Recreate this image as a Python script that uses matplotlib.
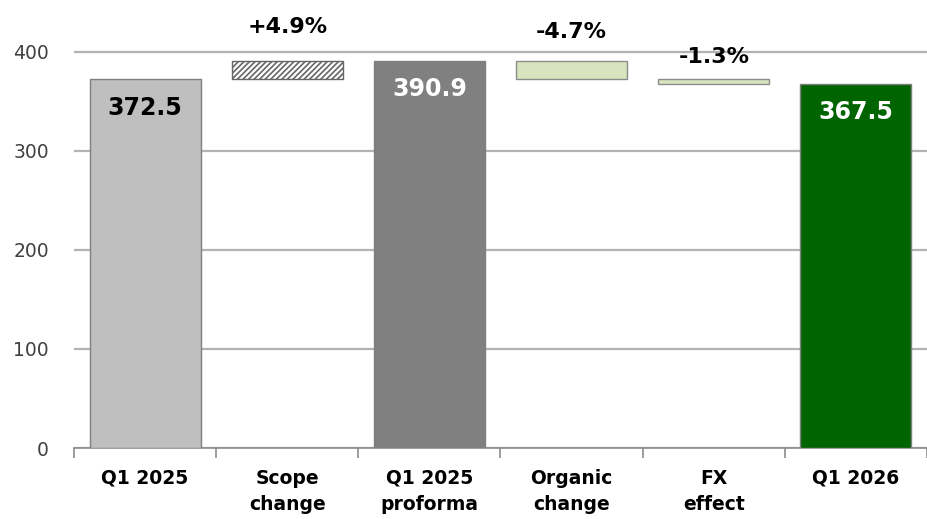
import matplotlib.pyplot as plt

categories = ["Q1 2025", "Scope\nchange", "Q1 2025\nproforma", "Organic\nchange", "FX\neffect", "Q1 2026"]
# totals (None = floating step bar)
totals = [372.5, None, 390.9, None, None, 367.5]
# step bars: (from, to)
steps = {1: (372.5, 390.9), 3: (390.9, 372.5), 4: (372.5, 367.5)}
step_labels = {1: "+4.9%", 3: "-4.7%", 4: "-1.3%"}

total_colors = {0: "#bfbfbf", 2: "#808080", 5: "#006400"}
total_text = {0: "black", 2: "white", 5: "white"}
label_gap = {1: 34, 3: 29, 4: 22}

plt.rcParams["hatch.color"] = "#4d4d4d"
plt.rcParams["hatch.linewidth"] = 1.2

fig = plt.figure(figsize=(9.27, 5.19), dpi=100)
ax = fig.add_axes([74 / 927, 71 / 519, 853 / 927, 448 / 519])

width = 0.78
x = list(range(len(categories)))

for i in x:
    if totals[i] is not None:
        ax.bar(i, totals[i], width=width, color=total_colors[i], edgecolor="#7f7f7f", linewidth=1, zorder=3)
        ax.text(i, totals[i] - 29, f"{totals[i]:.1f}", ha="center", va="center",
                fontsize=17, fontweight="bold", color=total_text[i], zorder=4)
    else:
        lo, hi = sorted(steps[i])
        if i == 1:
            ax.bar(i, hi - lo, bottom=lo, width=width, color="white", edgecolor="#666666",
                   hatch="//////", linewidth=1, zorder=3)
        else:
            ax.bar(i, hi - lo, bottom=lo, width=width, color="#d7e4bd", edgecolor="#8c8c8c",
                   linewidth=1, zorder=3)
        ax.text(i, hi + label_gap[i], step_labels[i], ha="center", va="center",
                fontsize=16, fontweight="bold", color="black", zorder=4)

ax.set_ylim(0, 452)
ax.set_xlim(-0.5, 5.42)
ax.set_yticks([0, 100, 200, 300, 400])
ax.yaxis.grid(True, color="#b3b3b3", linewidth=1.6, zorder=0)
ax.tick_params(axis="y", length=0, labelsize=13.5, labelcolor="#404040", pad=18)

ax.set_xticks([i - 0.5 for i in x] + [5.5])
ax.set_xticklabels([])
ax.set_xticks(x, minor=True)
ax.set_xticklabels(categories, minor=True, fontsize=13.5, fontweight="bold", linespacing=1.45)
ax.tick_params(axis="x", which="major", length=7, color="#8c8c8c", width=1.2)
ax.tick_params(axis="x", which="minor", length=0, pad=15)

for s in ["top", "right", "left"]:
    ax.spines[s].set_visible(False)
ax.spines["bottom"].set_color("#8c8c8c")
ax.spines["bottom"].set_linewidth(1.2)
ax.set_axisbelow(True)

plt.savefig("out.png", dpi=100)
